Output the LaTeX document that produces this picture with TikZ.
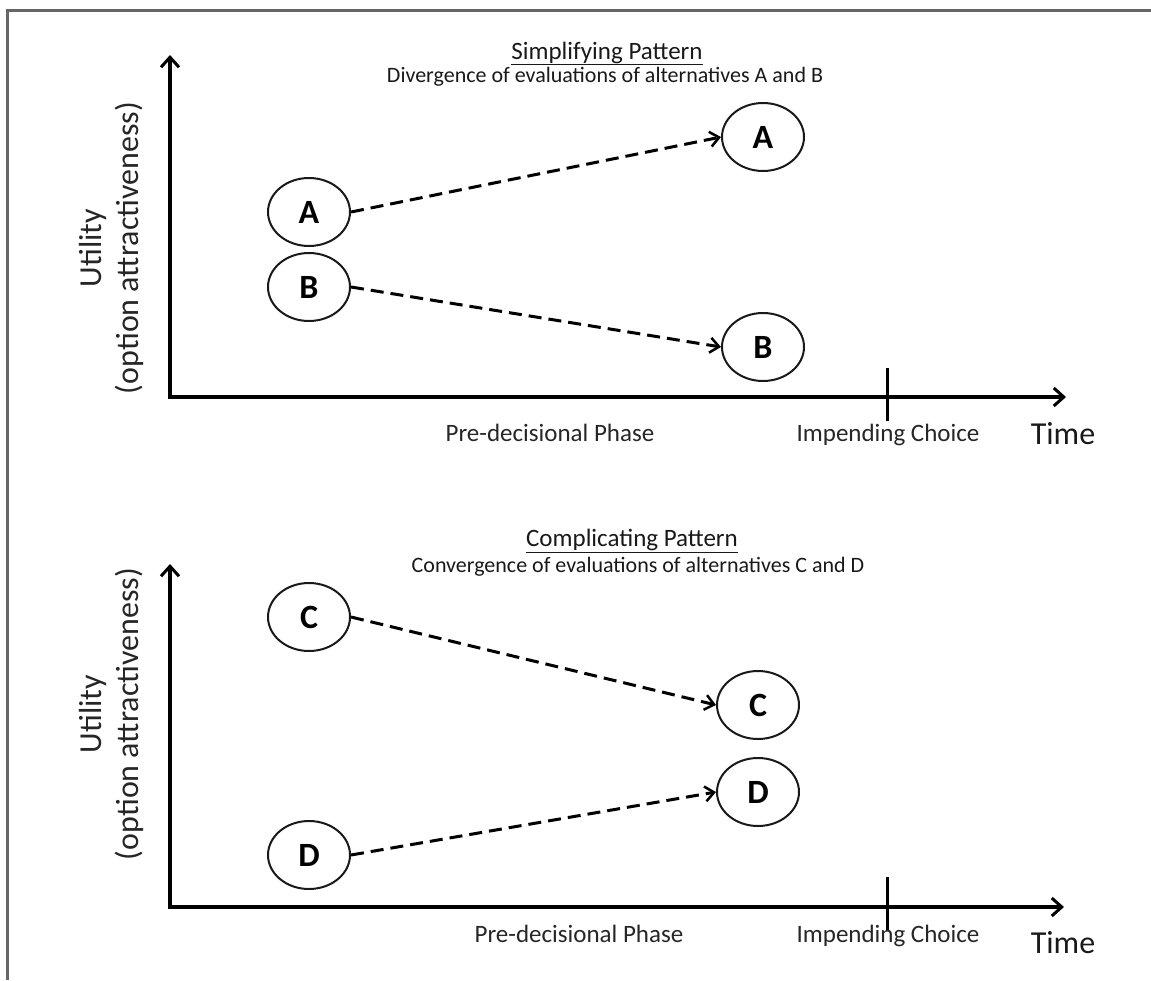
\documentclass[tikz,border=0pt]{standalone}
\usepackage{fontspec}
\setmainfont{Carlito}
\usetikzlibrary{shapes.geometric,arrows.meta}
\begin{document}
\begin{tikzpicture}[x=1pt,y=-1pt,
  bub/.style={draw=black!90,line width=2pt,ellipse,minimum width=82pt,minimum height=68pt,inner sep=0pt,font=\fontsize{34}{34}\selectfont\bfseries,text=black},
  axisline/.style={line width=3.6pt,black,{Straight Barb[length=10pt,width=18pt,line width=3pt]}-{Straight Barb[length=10pt,width=18pt,line width=3pt]}},
  darr/.style={line width=3pt,black,dash pattern=on 13pt off 7pt,-{Straight Barb[length=9pt,width=15pt,line width=2.5pt]}},
  tick/.style={line width=3pt,black},
  ttl/.style={font=\fontsize{25}{25}\selectfont,text=black!90,anchor=base},
  sub/.style={font=\fontsize{22}{22}\selectfont,text=black!90,anchor=base},
  xlab/.style={font=\fontsize{25}{25}\selectfont,text=black!85,anchor=base},
  timelab/.style={font=\fontsize{32}{32}\selectfont,text=black!90,anchor=base},
  ylab/.style={font=\fontsize{32}{32}\selectfont,text=black!85,rotate=90},
  frame/.style={line width=3pt,black!60}
]
\useasboundingbox (0,0) rectangle (1151,980);
% frame
\coordinate (fr1) at (1151,10);
\coordinate (fr2) at (7,10);
\coordinate (fr3) at (7,980);
\draw[frame] (fr1) -- (fr2) -- (fr3);

% ---------- top panel ----------
\coordinate (ytop1) at (170,55);
\coordinate (o1) at (170,397);
\coordinate (xend1) at (1066,397);
\draw[axisline] (ytop1) -- (o1) -- (xend1);
\coordinate (t1a) at (887,368);
\coordinate (t1b) at (887,421);
\draw[tick] (t1a) -- (t1b);

\node[ttl] (title1) at (607,59) {\underline{Simplifying Pattern}};
\node[sub] (sub1) at (605,82) {Divergence of evaluations of alternatives A and B};

\node[ylab] (uty1) at (93,248) {Utility};
\node[ylab] (opt1) at (129,248) {(option attractiveness)};

\node[xlab] (pre1) at (550,441) {Pre-decisional Phase};
\node[xlab] (imp1) at (888,441) {Impending Choice};
\node[timelab] (time1) at (1063,444) {Time};

\node[bub] (A1) at (309,212) {A};
\node[bub] (B1) at (309,287) {B};
\node[bub] (A2) at (763,137) {A};
\node[bub] (B2) at (763,347) {B};
\draw[darr] (A1.east) -- (A2.west);
\draw[darr] (B1.east) -- (B2.west);

% ---------- bottom panel ----------
\coordinate (ytop2) at (170,564);
\coordinate (o2) at (170,907);
\coordinate (xend2) at (1064,907);
\draw[axisline] (ytop2) -- (o2) -- (xend2);
\coordinate (t2a) at (887,877);
\coordinate (t2b) at (887,931);
\draw[tick] (t2a) -- (t2b);

\node[ttl] (title2) at (632,546) {\underline{Complicating Pattern}};
\node[sub] (sub2) at (638,572) {Convergence of evaluations of alternatives C and D};

\node[ylab] (uty2) at (93,714) {Utility};
\node[ylab] (opt2) at (129,714) {(option attractiveness)};

\node[xlab] (pre2) at (579,942) {Pre-decisional Phase};
\node[xlab] (imp2) at (888,942) {Impending Choice};
\node[timelab] (time2) at (1063,953) {Time};

\node[bub] (C1) at (309,617) {C};
\node[bub] (C2) at (758,705) {C};
\node[bub] (D2) at (758,792) {D};
\node[bub] (D1) at (309,855) {D};
\draw[darr] (C1.east) -- (C2.west);
\draw[darr] (D1.east) -- (D2.west);
\end{tikzpicture}
\end{document}
